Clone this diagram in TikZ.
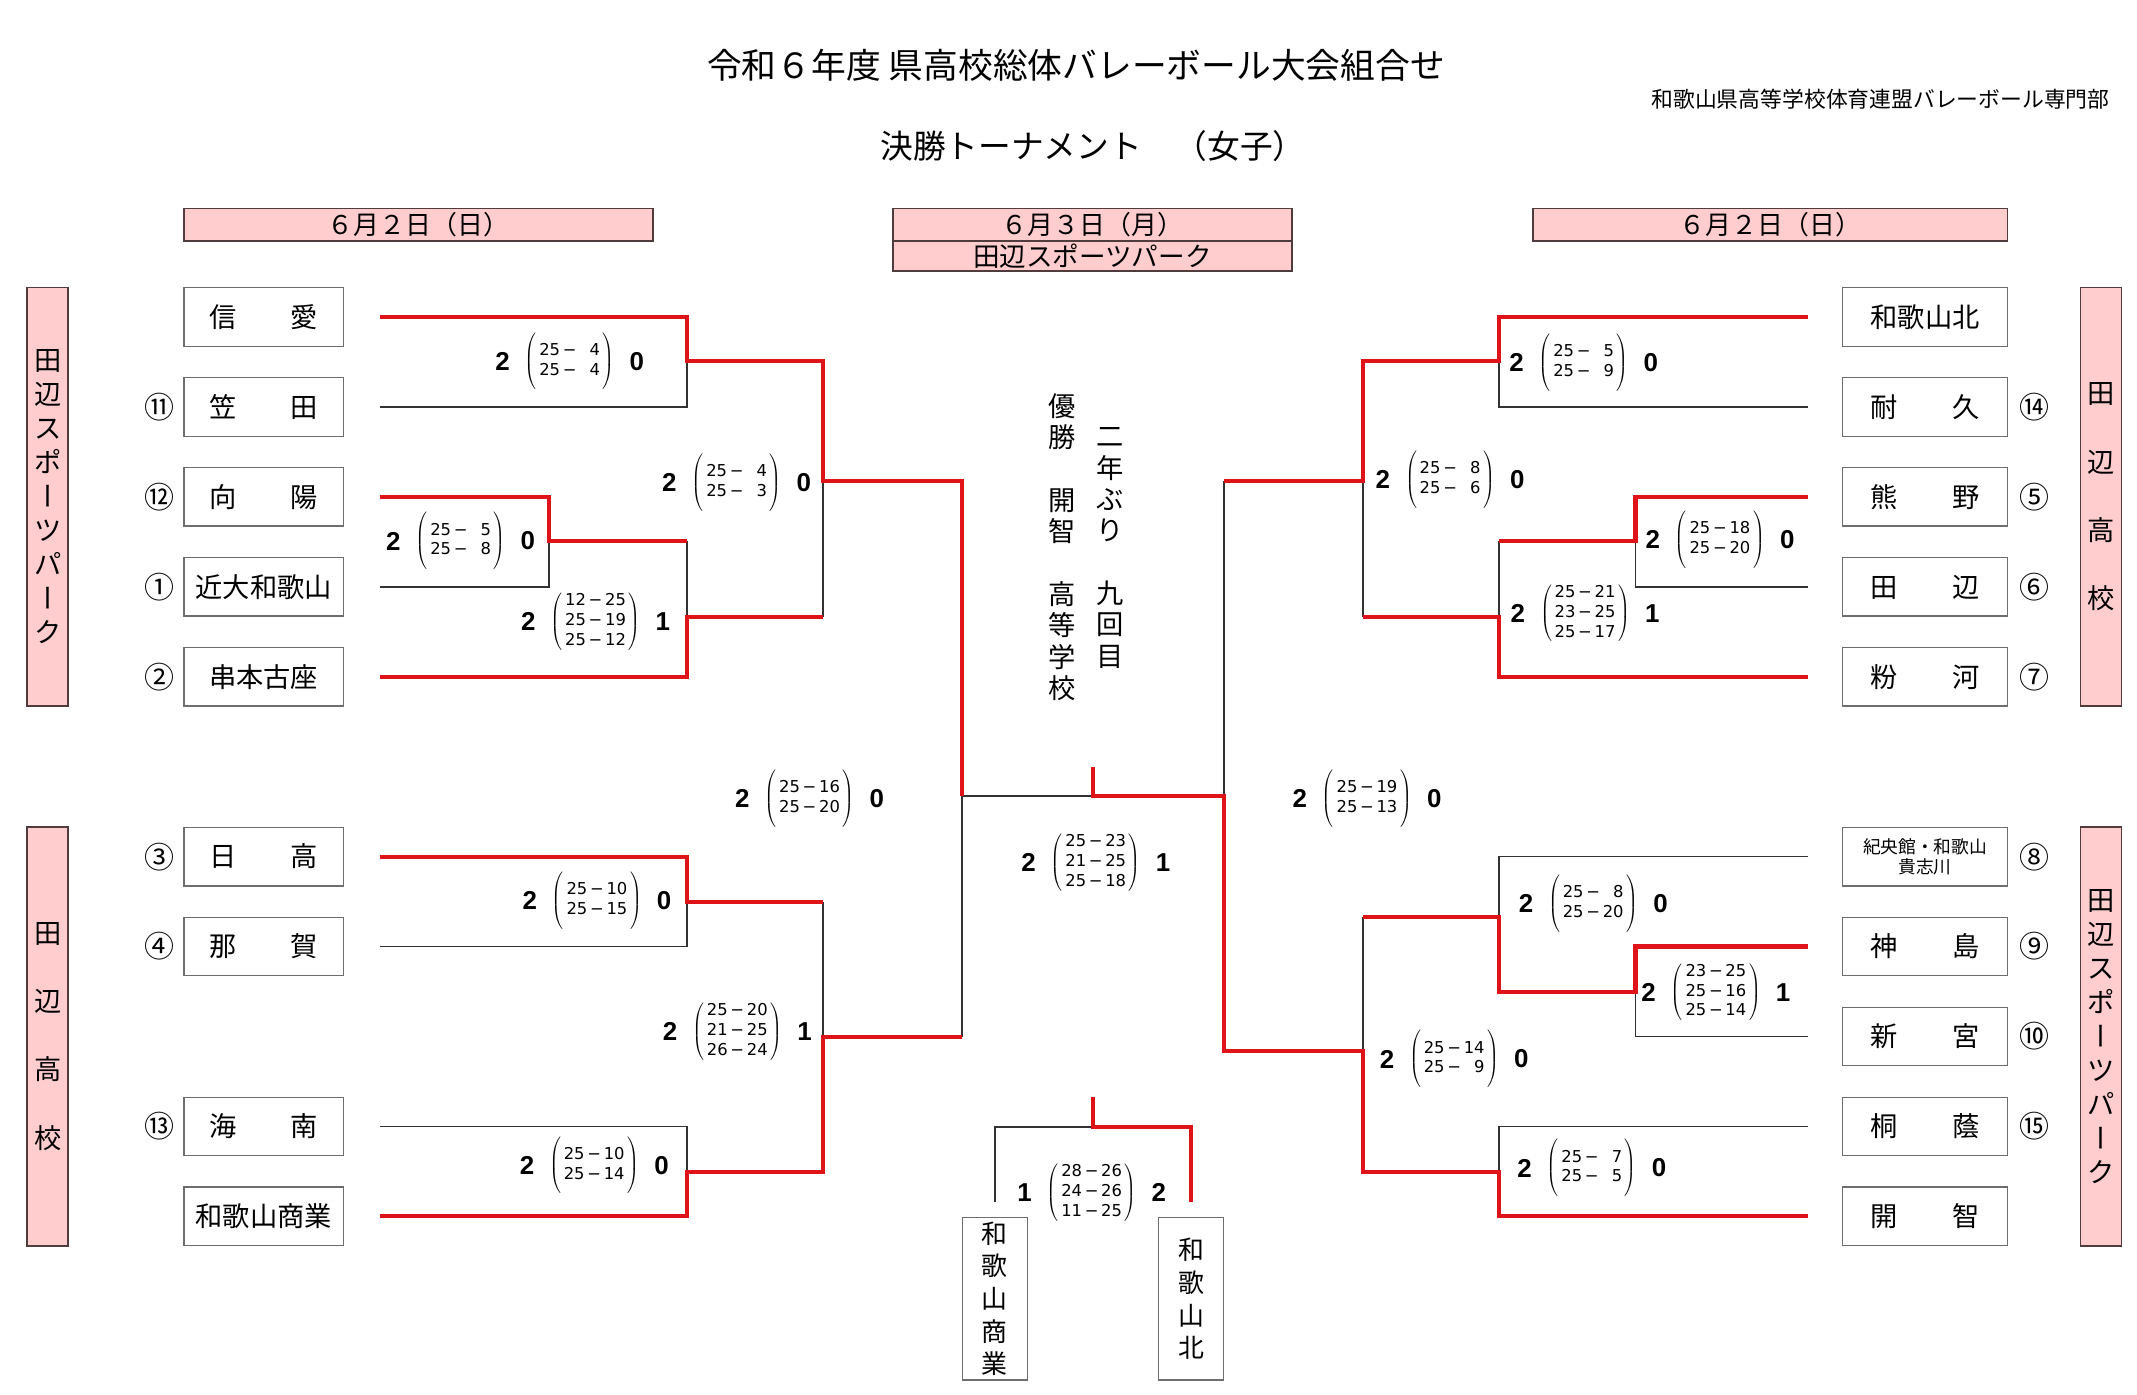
\documentclass[tikz,border=0pt]{standalone}
\usepackage{fontspec}
\usepackage{graphicx}
\newfontfamily\jp{Noto Sans CJK JP}
\newfontfamily\numfam{Liberation Sans}
\newfontfamily\setfam{DejaVu Sans}

\definecolor{winred}{RGB}{222,20,24}
\definecolor{lossgray}{RGB}{50,50,50}
\definecolor{boxgray}{RGB}{110,110,110}
\definecolor{pinkbg}{RGB}{255,205,205}
\definecolor{pinkline}{RGB}{80,60,60}

\newcommand{\numf}{\numfam\bfseries\fontsize{19}{20}\selectfont}
\newcommand{\setf}{\setfam\fontsize{12}{14.5}\selectfont}
\newcommand{\one}{\hphantom{0}}
\newcommand{\matchscore}[3]{$\vcenter{\hbox{\numf #1}}\hspace{9pt}\left(\vcenter{\hbox{\setf\begin{tabular}{@{\hspace{2pt}}r@{\,−\,}r@{\hspace{2pt}}}#2\end{tabular}}}\vrule height 24pt depth 18pt width 0pt\right)\hspace{9pt}\vcenter{\hbox{\numf #3}}$}
\newcommand{\tbar}{\rotatebox[origin=c]{-90}{\raisebox{0pt}[0.88em][0.12em]{ー}}}

\begin{document}
\begin{tikzpicture}[x=1pt,y=-1pt]

\tikzset{txt/.style = {inner sep=0pt}}
\tikzset{teambox/.style = {draw=boxgray, line width=0.9pt, minimum width=117pt, minimum height=43pt, inner sep=0pt}}
\tikzset{team/.style = {teambox, font=\jp\fontsize{20}{24}\selectfont, text height=17.6pt, text depth=2.4pt}}
\tikzset{seed/.style = {inner sep=0pt, font=\jp\fontsize{22}{24}\selectfont, text height=19.4pt, text depth=2.6pt}}
\tikzset{datebox/.style = {draw=pinkline, line width=1.2pt, fill=pinkbg, inner sep=0pt, minimum height=24pt, font=\jp\fontsize{19}{21}\selectfont, text height=16.7pt, text depth=2.3pt}}
\tikzset{venue/.style = {draw=pinkline, line width=1.2pt, fill=pinkbg, minimum width=30pt, minimum height=307pt, inner sep=0pt, align=center}}
\tikzset{finalbox/.style = {draw=boxgray, line width=0.9pt, minimum width=48pt, minimum height=119pt, inner sep=0pt, align=center, font=\jp\fontsize{19}{24}\selectfont}}
\tikzset{tate/.style = {inner sep=0pt, align=center, font=\jp\fontsize{20}{23}\selectfont}}
\tikzset{score/.style = {inner sep=0pt, font=\setf}}
\tikzset{win/.style = {draw=winred, line width=3pt}}
\tikzset{loss/.style = {draw=lossgray, line width=1.2pt}}

\path[fill=white, use as bounding box] (0,0) rectangle (1568,1023);

%headings
\node[txt, font=\jp\fontsize{25.5}{28}\selectfont] (title) at (789.5,48) {令和６年度 県高校総体バレーボール大会組合せ};
\node[txt, font=\jp\fontsize{16}{18}\selectfont, anchor=east] (org) at (1548,73) {和歌山県高等学校体育連盟バレーボール専門部};
\node[txt, font=\jp\fontsize{24}{26}\selectfont] (sub) at (802,107) {決勝トーナメント　（女子）};

%dates
\node[datebox, minimum width=344pt] (dayL) at (307,165) {６月２日（日）};
\node[datebox, minimum width=293pt] (dayC) at (801.5,165) {６月３日（月）};
\node[datebox, minimum width=293pt, minimum height=22pt, font=\jp\fontsize{19.5}{21}\selectfont] (placeC) at (801.5,188) {田辺スポーツパーク};
\node[datebox, minimum width=348pt] (dayR) at (1299,165) {６月２日（日）};

%venues
\node[venue, font=\jp\fontsize{20}{25}\selectfont] (venL1) at (35,364.5) {田\\辺\\ス\\ポ\\\tbar\\ツ\\パ\\\tbar\\ク};
\node[venue, font=\jp\fontsize{20}{50}\selectfont] (venL2) at (35,760.5) {田\\辺\\高\\校};
\node[venue, font=\jp\fontsize{20}{50}\selectfont] (venR1) at (1541.5,364.5) {田\\辺\\高\\校};
\node[venue, font=\jp\fontsize{20}{25}\selectfont] (venR2) at (1541.5,760.5) {田\\辺\\ス\\ポ\\\tbar\\ツ\\パ\\\tbar\\ク};

%teams left
\node[team] (shinai) at (193.5,232.5) {信　　愛};
\node[team] (kasada) at (193.5,298.5) {笠　　田};
\node[team] (koyo) at (193.5,364.5) {向　　陽};
\node[team] (kindai) at (193.5,430.5) {近大和歌山};
\node[team] (kushimoto) at (193.5,496.5) {串本古座};
\node[team] (hidaka) at (193.5,628.5) {日　　高};
\node[team] (naga) at (193.5,694.5) {那　　賀};
\node[team] (kainan) at (193.5,826.5) {海　　南};
\node[team] (shogyo) at (193.5,892.5) {和歌山商業};

%teams right
\node[team, minimum width=121pt] (wkita) at (1412.5,232.5) {和歌山北};
\node[team, minimum width=121pt] (taikyu) at (1412.5,298.5) {耐　　久};
\node[team, minimum width=121pt] (kumano) at (1412.5,364.5) {熊　　野};
\node[team, minimum width=121pt] (tanabe) at (1412.5,430.5) {田　　辺};
\node[team, minimum width=121pt] (kokawa) at (1412.5,496.5) {粉　　河};
\node[teambox, minimum width=121pt, align=center, font=\jp\fontsize{13}{15}\selectfont] (kioukan) at (1412.5,628.5) {紀央館・和歌山\\貴志川};
\node[team, minimum width=121pt] (kamishima) at (1412.5,694.5) {神　　島};
\node[team, minimum width=121pt] (shingu) at (1412.5,760.5) {新　　宮};
\node[team, minimum width=121pt] (toin) at (1412.5,826.5) {桐　　蔭};
\node[team, minimum width=121pt] (kaichi) at (1412.5,892.5) {開　　智};

%seeds
\foreach \s/\y [count=\i] in {⑪/298.5, ⑫/364.5, ①/430.5, ②/496.5, ③/628.5, ④/694.5, ⑬/826.5}
  \node[seed] (seedL\i) at (117,\y) {\s};
\foreach \s/\y [count=\i] in {⑭/298.5, ⑤/364.5, ⑥/430.5, ⑦/496.5, ⑧/628.5, ⑨/694.5, ⑩/760.5, ⑮/826.5}
  \node[seed] (seedR\i) at (1493,\y) {\s};

%third place boxes
\node[finalbox] (fshogyo) at (730,953) {和\\歌\\山\\商\\業};
\node[finalbox] (fkita) at (874,953) {和\\歌\\山\\北};

%champion
\node[tate] (champ) at (779,401.5) {優\\勝\\　\\開\\智\\　\\高\\等\\学\\校};
\node[tate] (champnote) at (814.5,402) {二\\年\\ぶ\\り\\　\\九\\回\\目};

%junctions
\coordinate (qL1) at (504,265);
\coordinate (qL2) at (403,397);
\coordinate (qL3) at (504,453);
\coordinate (qL4) at (604,353);
\coordinate (qL5) at (504,662);
\coordinate (qL6) at (504,860);
\coordinate (qL7) at (604,761);
\coordinate (semiL) at (706,584);
\coordinate (final) at (802,584);
\coordinate (semiR) at (898,584);
\coordinate (qR1) at (1100,265);
\coordinate (qR2) at (1200,397);
\coordinate (qR3) at (1100,453);
\coordinate (qR4) at (1000,353);
\coordinate (qR5) at (1100,673);
\coordinate (qR6) at (1200,728);
\coordinate (qR7) at (1100,860);
\coordinate (qR8) at (1000,771);
\coordinate (third) at (802,827);

%lost
\draw[loss] ([xshift=26pt]kasada.east) -| (qL1);
\draw[loss] ([xshift=26pt]kindai.east) -| (qL2);
\draw[loss] (qL2 -| qL3) -- (qL3);
\draw[loss] (qL3 -| qL4) -- (qL4);
\draw[loss] ([xshift=26pt]naga.east) -| (qL5);
\draw[loss] ([xshift=26pt]kainan.east) -| (qL6);
\draw[loss] (qL5 -| qL7) -- (qL7);
\draw[loss] (qL7 -| semiL) -- (semiL) -- (final);
\draw[loss] ([xshift=-25pt]taikyu.west) -| (qR1);
\draw[loss] ([xshift=-25pt]tanabe.west) -| (qR2);
\draw[loss] (qR2 -| qR3) -- (qR3);
\draw[loss] (qR3 -| qR4) -- (qR4);
\draw[loss] (qR4 -| semiR) -- (semiR);
\draw[loss] ([xshift=-25pt]kioukan.west) -| (qR5);
\draw[loss] ([xshift=-25pt]shingu.west) -| (qR6);
\draw[loss] (qR5 -| qR8) -- (qR8);
\draw[loss] ([xshift=-25pt]toin.west) -| (qR7);
\draw[loss] ([yshift=11pt]fshogyo.north) |- (third);

%won
\draw[win] ([xshift=26pt]shinai.east) -| (qL1) -| (qL4) -| (semiL);
\draw[win] ([xshift=26pt]koyo.east) -| (qL2) -- (qL2 -| qL3);
\draw[win] ([xshift=26pt]kushimoto.east) -| (qL3) -- (qL3 -| qL4);
\draw[win] ([xshift=26pt]hidaka.east) -| (qL5) -- (qL5 -| qL7);
\draw[win] ([xshift=26pt]shogyo.east) -| (qL6) -| (qL7) -- (qL7 -| semiL);
\draw[win] ([xshift=-25pt]wkita.west) -| (qR1) -| (qR4) -- (qR4 -| semiR);
\draw[win] ([xshift=-25pt]kumano.west) -| (qR2) -- (qR2 -| qR3);
\draw[win] ([xshift=-25pt]kokawa.west) -| (qR3) -- (qR3 -| qR4);
\draw[win] ([xshift=-25pt]kamishima.west) -| (qR6) -| (qR5) -- (qR5 -| qR8);
\draw[win] ([xshift=-25pt]kaichi.west) -| (qR7) -| (qR8) -| (semiR) -- (final) -- ([yshift=21pt]final);
\draw[win] ([yshift=11pt]fkita.north) |- (third) -- ([yshift=22pt]third);

%scores
\node[score] (m1) at (418,265) {\matchscore{2}{25&\one4\\25&\one4}{0}};
\node[score] (m2) at (338,397) {\matchscore{2}{25&\one5\\25&\one8}{0}};
\node[score] (m3) at (437,456) {\matchscore{2}{12&25\\25&19\\25&12}{1}};
\node[score] (m4) at (540.5,354) {\matchscore{2}{25&\one4\\25&\one3}{0}};
\node[score] (m5) at (438,661) {\matchscore{2}{25&10\\25&15}{0}};
\node[score] (m6) at (436,855) {\matchscore{2}{25&10\\25&14}{0}};
\node[score] (m7) at (541,757) {\matchscore{2}{25&20\\21&25\\26&24}{1}};
\node[score] (m8) at (594,586) {\matchscore{2}{25&16\\25&20}{0}};
\node[score] (m9) at (804,633) {\matchscore{2}{25&23\\21&25\\25&18}{1}};
\node[score] (m10) at (1003,586) {\matchscore{2}{25&19\\25&13}{0}};
\node[score] (m11) at (1162,266) {\matchscore{2}{25&\one5\\25&\one9}{0}};
\node[score] (m12) at (1064,352) {\matchscore{2}{25&\one8\\25&\one6}{0}};
\node[score] (m13) at (1262,396) {\matchscore{2}{25&18\\25&20}{0}};
\node[score] (m14) at (1163,450) {\matchscore{2}{25&21\\23&25\\25&17}{1}};
\node[score] (m15) at (1169,663) {\matchscore{2}{25&\one8\\25&20}{0}};
\node[score] (m16) at (1259,728) {\matchscore{2}{23&25\\25&16\\25&14}{1}};
\node[score] (m17) at (1067,777) {\matchscore{2}{25&14\\25&\one9}{0}};
\node[score] (m18) at (1168,857) {\matchscore{2}{25&\one7\\25&\one5}{0}};
\node[score] (m19) at (801,875) {\matchscore{1}{28&26\\24&26\\11&25}{2}};

\end{tikzpicture}
\end{document}
